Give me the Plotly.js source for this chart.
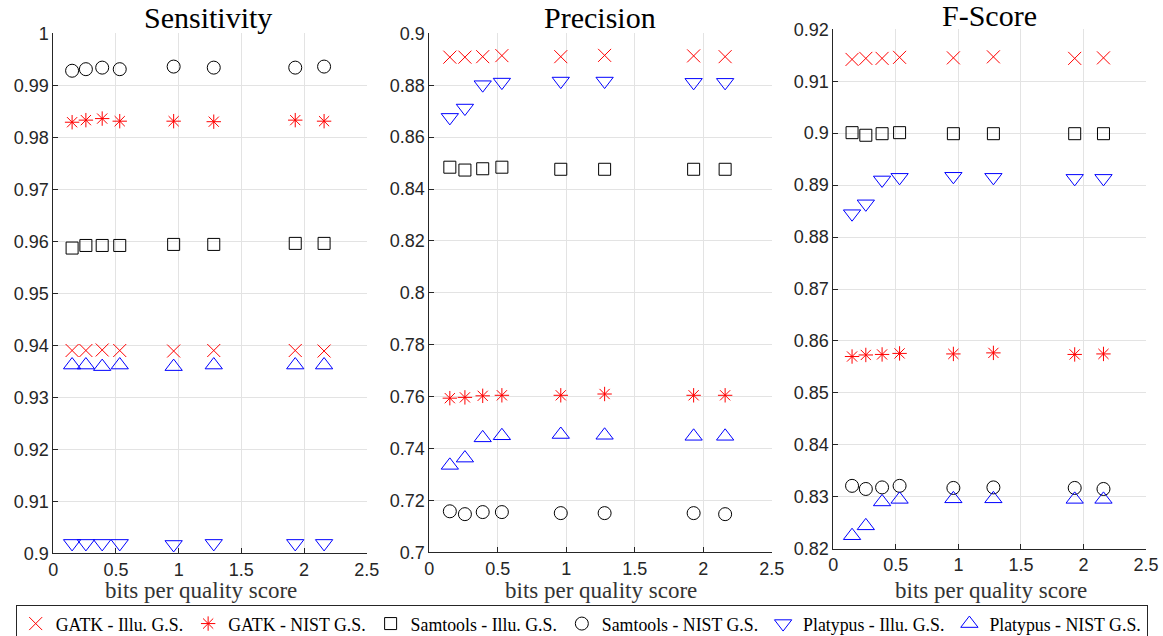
<!DOCTYPE html>
<html>
<head>
<meta charset="utf-8">
<script src="https://cdn.plot.ly/plotly-3.0.1.min.js"></script>
<style>
html,body{margin:0;padding:0;background:#fff;}
#chart{width:1163px;height:636px;}
</style>
</head>
<body>
<div id="chart"></div>
<script>
// bits per quality score (x positions)
var bits = [0.15, 0.26, 0.39, 0.53, 0.96, 1.28, 1.93, 2.16];

// Sensitivity
var sens_gatk_illu = [0.9390, 0.9390, 0.9391, 0.9390, 0.9389, 0.9390, 0.9390, 0.9389];
var sens_gatk_nist = [0.9829, 0.9833, 0.9836, 0.9831, 0.9831, 0.9830, 0.9833, 0.9831];
var sens_sam_illu  = [0.9587, 0.9592, 0.9592, 0.9592, 0.9594, 0.9594, 0.9596, 0.9596];
var sens_sam_nist  = [0.9928, 0.9931, 0.9934, 0.9931, 0.9936, 0.9934, 0.9934, 0.9936];
var sens_plat_illu = [0.9019, 0.9019, 0.9019, 0.9019, 0.9017, 0.9019, 0.9019, 0.9019];
var sens_plat_nist = [0.9362, 0.9362, 0.9359, 0.9362, 0.9359, 0.9362, 0.9362, 0.9362];

// Precision
var prec_gatk_illu = [0.8908, 0.8908, 0.8910, 0.8914, 0.8910, 0.8915, 0.8913, 0.8910];
var prec_gatk_nist = [0.7594, 0.7597, 0.7603, 0.7605, 0.7605, 0.7610, 0.7605, 0.7605];
var prec_sam_illu  = [0.8484, 0.8473, 0.8478, 0.8484, 0.8476, 0.8476, 0.8476, 0.8476];
var prec_sam_nist  = [0.7158, 0.7147, 0.7155, 0.7155, 0.7151, 0.7151, 0.7151, 0.7147];
var prec_plat_illu = [0.8676, 0.8712, 0.8802, 0.8812, 0.8816, 0.8816, 0.8811, 0.8811];
var prec_plat_nist = [0.7335, 0.7363, 0.7441, 0.7449, 0.7454, 0.7451, 0.7447, 0.7447];

// F-Score
var f_gatk_illu = [0.9142, 0.9144, 0.9144, 0.9146, 0.9145, 0.9147, 0.9144, 0.9145];
var f_gatk_nist = [0.8570, 0.8573, 0.8574, 0.8576, 0.8575, 0.8577, 0.8574, 0.8575];
var f_sam_illu  = [0.9001, 0.8996, 0.8999, 0.9001, 0.8999, 0.8999, 0.8999, 0.8999];
var f_sam_nist  = [0.8321, 0.8315, 0.8318, 0.8321, 0.8317, 0.8318, 0.8317, 0.8315];
var f_plat_illu = [0.8845, 0.8864, 0.8910, 0.8915, 0.8917, 0.8915, 0.8913, 0.8913];
var f_plat_nist = [0.8225, 0.8244, 0.8290, 0.8295, 0.8296, 0.8296, 0.8295, 0.8295];

var seriesNames = ['GATK - Illu. G.S.', 'GATK - NIST G.S.', 'Samtools - Illu. G.S.',
                   'Samtools - NIST G.S.', 'Platypus - Illu. G.S.', 'Platypus - NIST G.S.'];
var panelTitles = ['Sensitivity', 'Precision', 'F-Score'];
var xLabel = 'bits per quality score';

var styles = [
  {symbol: 'x-thin-open', color: '#ff0000', size: 13},
  {symbol: 'asterisk-open', color: '#ff0000', size: 12},
  {symbol: 'square-open', color: '#000000', size: 12},
  {symbol: 'circle-open', color: '#000000', size: 13},
  {symbol: 'triangle-down-open', color: '#0000ff', size: 15},
  {symbol: 'triangle-up-open', color: '#0000ff', size: 15}
];

var panels = [
  [sens_gatk_illu, sens_gatk_nist, sens_sam_illu, sens_sam_nist, sens_plat_illu, sens_plat_nist],
  [prec_gatk_illu, prec_gatk_nist, prec_sam_illu, prec_sam_nist, prec_plat_illu, prec_plat_nist],
  [f_gatk_illu, f_gatk_nist, f_sam_illu, f_sam_nist, f_plat_illu, f_plat_nist]
];

var traces = [];
panels.forEach(function(panel, p) {
  panel.forEach(function(vals, s) {
    var st = styles[s];
    traces.push({
      type: 'scatter', mode: 'markers',
      x: bits, y: vals,
      xaxis: p === 0 ? 'x' : 'x' + (p + 1),
      yaxis: p === 0 ? 'y' : 'y' + (p + 1),
      name: seriesNames[s], legendgroup: 'g' + s, showlegend: p === 0,
      cliponaxis: false,
      marker: {symbol: st.symbol, size: st.size, color: st.color,
               line: {color: st.color, width: 1}}
    });
  });
});

var W = 1163, H = 636;
function xd(a, b) { return [a / W, b / W]; }
function yd(top, bot) { return [1 - bot / H, 1 - top / H]; }

var tickFont = {family: 'Liberation Sans, Arial, sans-serif', size: 18, color: '#262626'};
var serif = 'Liberation Serif, Times New Roman, serif';

function xaxis(dom, anchor) {
  return {
    domain: dom, anchor: anchor, range: [0, 2.5], dtick: 0.5, tick0: 0,
    showgrid: true, gridcolor: '#e3e3e3', gridwidth: 1, zeroline: false,
    showline: true, linecolor: '#262626', linewidth: 1,
    ticks: 'inside', ticklen: 5, tickcolor: '#262626', tickfont: tickFont,
    automargin: false, fixedrange: true
  };
}
function yaxis(dom, anchor, range, dtick) {
  return {
    domain: dom, anchor: anchor, range: range, dtick: dtick, tick0: range[0],
    showgrid: true, gridcolor: '#e3e3e3', gridwidth: 1, zeroline: false,
    showline: true, linecolor: '#262626', linewidth: 1,
    ticks: 'inside', ticklen: 5, tickcolor: '#262626', tickfont: tickFont,
    automargin: false, fixedrange: true
  };
}

var titleAnn = [
  {text: panelTitles[0], x: 208, y: 18},
  {text: panelTitles[1], x: 600, y: 18},
  {text: panelTitles[2], x: 989.5, y: 15}
].map(function(a) {
  return {text: a.text, x: a.x / W, y: 1 - a.y / H, xref: 'paper', yref: 'paper',
          xanchor: 'center', yanchor: 'middle', showarrow: false,
          font: {family: serif, size: 30, color: '#000000'}};
});
var xLabelAnn = [
  {x: 201, y: 590},
  {x: 601, y: 590},
  {x: 991, y: 590}
].map(function(a) {
  return {text: xLabel, x: a.x / W, y: 1 - a.y / H, xref: 'paper', yref: 'paper',
          xanchor: 'center', yanchor: 'middle', showarrow: false, borderpad: 0,
          font: {family: serif, size: 23, color: '#333333'}};
});

var layout = {
  width: W, height: H,
  margin: {l: 0, r: 0, t: 0, b: 0, autoexpand: false},
  paper_bgcolor: '#ffffff', plot_bgcolor: '#ffffff',
  showlegend: true,
  legend: {
    orientation: 'h', x: 15.7 / W, xanchor: 'left', y: 1 - 604.5 / H, yanchor: 'top',
    bgcolor: '#ffffff', bordercolor: '#262626', borderwidth: 1,
    font: {family: serif, size: 17.8, color: '#000000'}, itemclick: false, itemdoubleclick: false
  },
  xaxis: xaxis(xd(53.3, 366.7), 'y'),
  yaxis: yaxis(yd(33.3, 553.3), 'x', [0.9, 1.0], 0.01),
  xaxis2: xaxis(xd(429.3, 771.7), 'y2'),
  yaxis2: yaxis(yd(33.3, 552.3), 'x2', [0.7, 0.9], 0.02),
  xaxis3: xaxis(xd(833.3, 1146), 'y3'),
  yaxis3: yaxis(yd(29.3, 548.7), 'x3', [0.82, 0.92], 0.01),
  annotations: titleAnn.concat(xLabelAnn)
};

Plotly.newPlot('chart', traces, layout, {displayModeBar: false, staticPlot: true});
</script>
</body>
</html>
